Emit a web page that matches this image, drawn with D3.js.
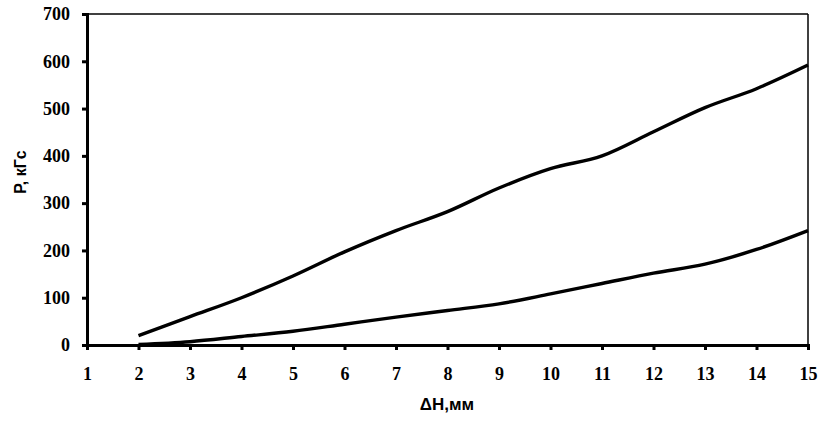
<!DOCTYPE html>
<html>
<head>
<meta charset="utf-8">
<script src="https://cdn.jsdelivr.net/npm/d3@7"></script>
<style>
  html, body { margin: 0; padding: 0; background: #fff; }
  svg { display: block; }
</style>
</head>
<body>
<svg id="chart" width="822" height="425"></svg>
<script>
const xValues = [2, 3, 4, 5, 6, 7, 8, 9, 10, 11, 12, 13, 14, 15];
const upperSeries = [20, 60, 100, 146, 197, 242, 282, 332, 373, 400, 451, 502, 542, 592];
const lowerSeries = [1, 7, 18, 29, 44, 59, 73, 87, 108, 130, 152, 171, 202, 242];
const xTicks = [1, 2, 3, 4, 5, 6, 7, 8, 9, 10, 11, 12, 13, 14, 15];
const yTicks = [0, 100, 200, 300, 400, 500, 600, 700];
const xTitle = "ΔН,мм";
const yTitle = "Р, кГс";

(function () {
const svg = d3.select("#chart");
const mLeft = 87, mRight = 808, mTop = 14, mBottom = 345;

const x = d3.scaleLinear().domain([1, 15]).range([mLeft, mRight]);
const y = d3.scaleLinear().domain([0, 700]).range([mBottom, mTop]);

// frame: thin top and right
svg.append("line").attr("x1", mLeft).attr("x2", mRight).attr("y1", mTop).attr("y2", mTop)
  .attr("stroke", "#000").attr("stroke-width", 1.5);
svg.append("line").attr("x1", mRight).attr("x2", mRight).attr("y1", mTop).attr("y2", mBottom)
  .attr("stroke", "#000").attr("stroke-width", 1.5);

const tickFont = "'Liberation Serif', 'Times New Roman', serif";

const xAxis = svg.append("g").attr("transform", `translate(0,${mBottom})`)
  .call(d3.axisBottom(x).tickValues(xTicks).tickFormat(d3.format("d")).tickSize(5).tickPadding(17));
const yAxis = svg.append("g").attr("transform", `translate(${mLeft},0)`)
  .call(d3.axisLeft(y).tickValues(yTicks).tickFormat(d3.format("d")).tickSize(5).tickPadding(12));

[xAxis, yAxis].forEach(g => {
  g.attr("font-size", null).attr("font-family", null);
  g.select(".domain").attr("stroke", "#000").attr("stroke-width", 3);
  g.selectAll(".tick line").attr("stroke", "#000").attr("stroke-width", 3);
  g.selectAll(".tick text").attr("fill", "#000")
    .attr("font-family", tickFont).attr("font-weight", "bold").attr("font-size", 18);
});

const line = d3.line().x((d, i) => x(xValues[i])).y(d => y(d)).curve(d3.curveMonotoneX);

[upperSeries, lowerSeries].forEach(s => {
  svg.append("path").datum(s).attr("d", line)
    .attr("fill", "none").attr("stroke", "#000").attr("stroke-width", 3.4)
    .attr("stroke-linejoin", "round").attr("stroke-linecap", "butt");
});

svg.append("text").attr("x", 447).attr("y", 410)
  .attr("text-anchor", "middle")
  .attr("font-family", "'Liberation Sans', Arial, sans-serif").attr("font-weight", "bold")
  .attr("font-size", 17).text(xTitle);

svg.append("text").attr("transform", `translate(26,172) rotate(-90)`)
  .attr("text-anchor", "middle")
  .attr("font-family", "'Liberation Sans', Arial, sans-serif").attr("font-weight", "bold")
  .attr("font-size", 16).text(yTitle);
})();
</script>
</body>
</html>
